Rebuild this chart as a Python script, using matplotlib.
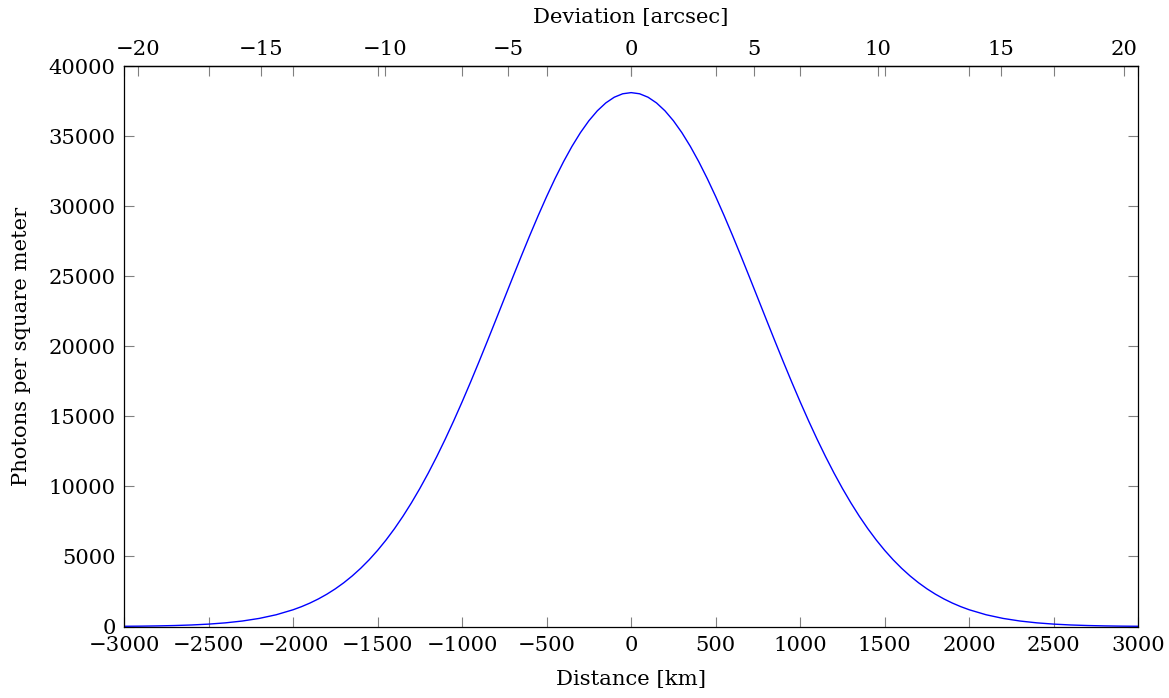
import matplotlib
matplotlib.use("Agg")
import matplotlib.pyplot as plt

# Data (distance in km, photons per square meter)
distance_km = [-3000, -2900, -2800, -2700, -2600, -2500, -2400, -2300, -2200, -2100,
               -2000, -1950, -1900, -1850, -1800, -1750, -1700, -1650, -1600, -1550,
               -1500, -1450, -1400, -1350, -1300, -1250, -1200, -1150, -1100, -1050,
               -1000, -950, -900, -850, -800, -750, -700, -650, -600, -550,
               -500, -450, -400, -350, -300, -250, -200, -150, -100, -50,
               0,
               50, 100, 150, 200, 250, 300, 350, 400, 450, 500,
               550, 600, 650, 700, 750, 800, 850, 900, 950, 1000,
               1050, 1100, 1150, 1200, 1250, 1300, 1350, 1400, 1450, 1500,
               1550, 1600, 1650, 1700, 1750, 1800, 1850, 1900, 1950, 2000,
               2100, 2200, 2300, 2400, 2500, 2600, 2700, 2800, 2900, 3000]
photons = [16, 26, 43, 69, 109, 170, 260, 391, 577, 837,
           1194, 1416, 1673, 1968, 2305, 2688, 3121, 3608, 4153, 4759,
           5431, 6171, 6981, 7864, 8820, 9849, 10951, 12124, 13364, 14668,
           16029, 17441, 18895, 20382, 21892, 23411, 24928, 26428, 27897, 29321,
           30684, 31973, 33171, 34266, 35244, 36093, 36803, 37365, 37772, 38018,
           38100,
           38018, 37772, 37365, 36803, 36093, 35244, 34266, 33171, 31973, 30684,
           29321, 27897, 26428, 24928, 23411, 21892, 20382, 18895, 17441, 16029,
           14668, 13364, 12124, 10951, 9849, 8820, 7864, 6981, 6171, 5431,
           4759, 4153, 3608, 3121, 2688, 2305, 1968, 1673, 1416, 1194,
           837, 577, 391, 260, 170, 109, 69, 43, 26, 16]

x_ticks = [-3000, -2500, -2000, -1500, -1000, -500, 0, 500, 1000, 1500, 2000, 2500, 3000]
y_ticks = [0, 5000, 10000, 15000, 20000, 25000, 30000, 35000, 40000]
top_ticks = [-20, -15, -10, -5, 0, 5, 10, 15, 20]
km_per_arcsec = 145.8

W, H, DPI = 1169, 698, 100
fig = plt.figure(figsize=(W / DPI, H / DPI), dpi=DPI)
plt.rcParams['font.family'] = ['DejaVu Serif']
fs = 15.2

left, right, top, bottom = 124, 1138.3, 66, 626.5
ax = fig.add_axes([left / W, 1 - bottom / H, (right - left) / W, (bottom - top) / H])

ax.plot(distance_km, photons, color='#0000ff', lw=1.0)
ax.set_xlim(-3000, 3000)
ax.set_ylim(0, 40000)
ax.set_xticks(x_ticks)
ax.set_yticks(y_ticks)
ax.set_xticklabels([str(v).replace('-', '\u2212') for v in x_ticks], fontsize=fs, family='DejaVu Serif')
ax.set_yticklabels([str(v) for v in y_ticks], fontsize=fs, family='DejaVu Serif')

tick_col = '#808080'
ax.tick_params(axis='both', which='major', direction='in', length=7.2, width=0.8,
               color=tick_col, top=True, right=True, labeltop=False, labelright=False)
ax.tick_params(axis='x', pad=7)
ax.tick_params(axis='y', pad=6)
for s in ax.spines.values():
    s.set_linewidth(0.9)
    s.set_color('black')

ax.set_xlabel('Distance [km]', fontsize=fs, family='DejaVu Serif', labelpad=10.5)
ax.set_ylabel('Photons per square meter', fontsize=fs, family='DejaVu Serif', labelpad=13)

sec = ax.secondary_xaxis('top', functions=(lambda d: d / km_per_arcsec, lambda a: a * km_per_arcsec))
sec.set_xticks(top_ticks)
sec.set_xticklabels([str(v).replace('-', '\u2212') for v in top_ticks], fontsize=fs, family='DejaVu Serif')
sec.tick_params(direction='in', length=7.2, width=0.8, color=tick_col, pad=5)
sec.spines['top'].set_linewidth(0.9)
sec.set_xlabel('Deviation [arcsec]', fontsize=fs, family='DejaVu Serif', labelpad=12.5)

fig.savefig('out.png', dpi=DPI)
